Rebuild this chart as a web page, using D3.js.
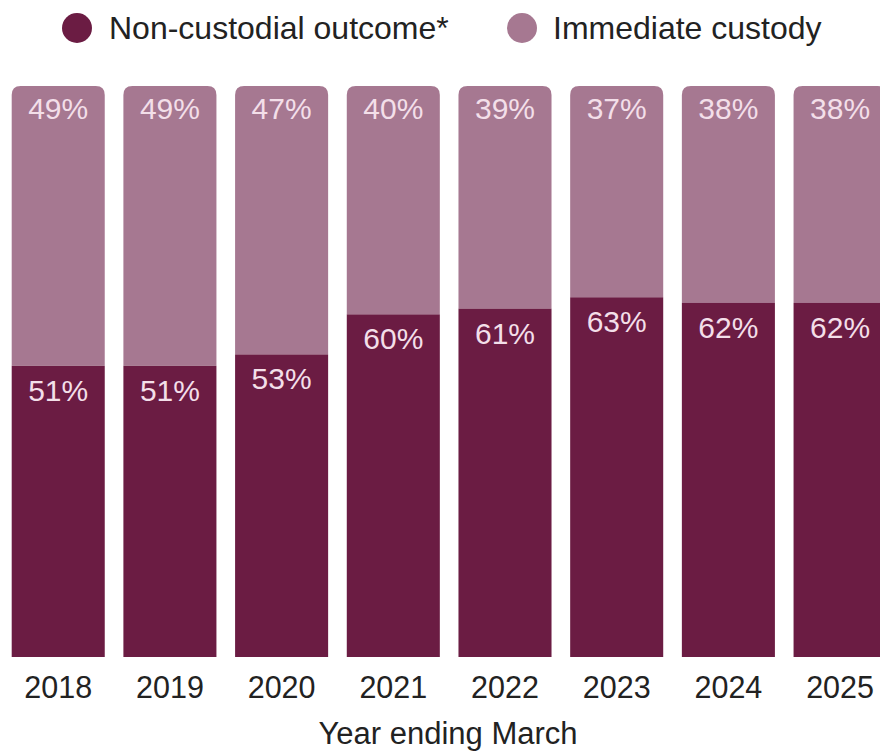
<!DOCTYPE html>
<html>
<head>
<meta charset="utf-8">
<script src="https://cdn.jsdelivr.net/npm/d3@7"></script>
<style>
  html, body { margin: 0; padding: 0; background: #fff; }
  svg { display: block; font-family: "Liberation Sans", Arial, sans-serif; }
</style>
</head>
<body>
<div id="chart"></div>
<script>
const years = ['2018', '2019', '2020', '2021', '2022', '2023', '2024', '2025'];
const nonCustodial = [51, 51, 53, 60, 61, 63, 62, 62];
const custody = [49, 49, 47, 40, 39, 37, 38, 38];
const seriesNames = ['Non-custodial outcome*', 'Immediate custody'];
const xTitle = 'Year ending March';

const width = 880, height = 751;
const darkCol = '#6b1c43', lightCol = '#a67891', labelCol = '#f3dfe9';

const svg = d3.select('#chart').append('svg')
  .attr('width', width)
  .attr('height', height);

const plotTop = 86, plotBottom = 657;

const x = d3.scaleBand()
  .domain(years)
  .range([11.7, 886.6])
  .paddingInner(0.167)
  .paddingOuter(0);

const y = d3.scaleLinear()
  .domain([0, 100])
  .range([plotBottom, plotTop]);

const rows = years.map((yr, i) => ({ year: yr, low: nonCustodial[i], high: custody[i] }));

// rounded-top rect path
const topRounded = (x0, y0, w, h, r) =>
  `M${x0},${y0 + h}V${y0 + r}Q${x0},${y0} ${x0 + r},${y0}H${x0 + w - r}Q${x0 + w},${y0} ${x0 + w},${y0 + r}V${y0 + h}Z`;

const bars = svg.append('g');

// immediate custody (upper segment)
bars.selectAll('path.upper')
  .data(rows)
  .join('path')
  .attr('class', 'upper')
  .attr('fill', lightCol)
  .attr('d', d => topRounded(x(d.year), y(d.low + d.high), x.bandwidth(), y(d.low) - y(d.low + d.high), 9));

// non-custodial (lower segment)
bars.selectAll('rect.lower')
  .data(rows)
  .join('rect')
  .attr('class', 'lower')
  .attr('fill', darkCol)
  .attr('x', d => x(d.year))
  .attr('y', d => y(d.low))
  .attr('width', x.bandwidth())
  .attr('height', d => y(0) - y(d.low));

// value labels
const labels = svg.append('g')
  .attr('fill', labelCol)
  .attr('font-size', 30)
  .attr('text-anchor', 'middle');

labels.selectAll('text.hi')
  .data(rows)
  .join('text')
  .attr('class', 'hi')
  .attr('x', d => x(d.year) + x.bandwidth() / 2)
  .attr('y', d => y(d.low + d.high) + 33)
  .text(d => d.high + '%');

labels.selectAll('text.lo')
  .data(rows)
  .join('text')
  .attr('class', 'lo')
  .attr('x', d => x(d.year) + x.bandwidth() / 2)
  .attr('y', d => y(d.low) + 35)
  .text(d => d.low + '%');

// x axis
svg.append('g')
  .attr('transform', `translate(0,${plotBottom})`)
  .call(d3.axisBottom(x).tickSize(0).tickPadding(0))
  .call(g => g.select('.domain').remove())
  .call(g => g.selectAll('.tick text')
    .attr('dy', null)
    .attr('y', 41)
    .attr('fill', '#222')
    .attr('font-size', 30.5)
    .attr('font-family', '"Liberation Sans", Arial, sans-serif'));

svg.append('text')
  .attr('x', 448)
  .attr('y', 744)
  .attr('text-anchor', 'middle')
  .attr('font-size', 31)
  .attr('fill', '#222')
  .text(xTitle);

// legend
const legend = svg.append('g').attr('transform', 'translate(0,28)');
const legendItems = [
  { name: seriesNames[0], color: darkCol, cx: 77, tx: 109 },
  { name: seriesNames[1], color: lightCol, cx: 522, tx: 553 }
];
const li = legend.selectAll('g')
  .data(legendItems)
  .join('g');
li.append('circle')
  .attr('cx', d => d.cx)
  .attr('cy', 0)
  .attr('r', 15)
  .attr('fill', d => d.color);
li.append('text')
  .attr('x', d => d.tx)
  .attr('y', 10.5)
  .attr('font-size', 32)
  .attr('fill', '#222')
  .text(d => d.name);
</script>
</body>
</html>
